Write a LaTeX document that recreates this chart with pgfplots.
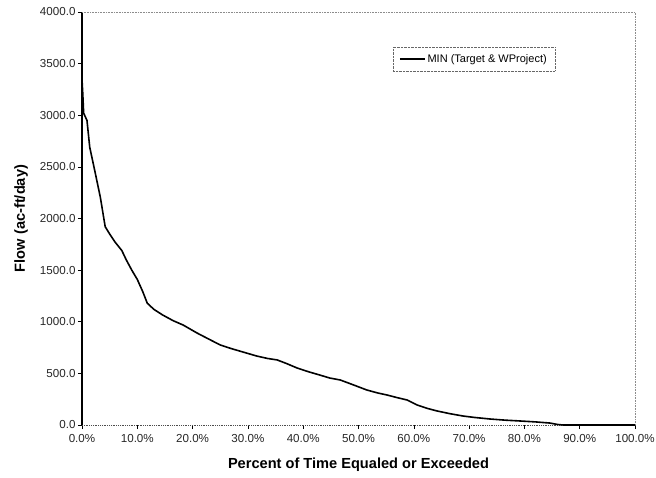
\documentclass[border=0pt]{standalone}
\usepackage{fontspec}
\setmainfont{Liberation Sans}
\usepackage{pgfplots}
\pgfplotsset{compat=1.18}
\begin{document}
\begin{tikzpicture}
\useasboundingbox (-82pt,-52pt) rectangle (574pt,425pt);
\begin{axis}[
  at={(0pt,0pt)}, anchor=south west,
  width=553pt, height=413pt, scale only axis,
  xmin=0, xmax=100, ymin=0, ymax=4000,
  xtick={0,10,...,100}, ytick={0,500,...,4000},
  axis x line*=bottom, axis y line*=left,
  x axis line style={densely dotted, black!70, line width=0.8pt, -},
  y axis line style={black, line width=1.2pt, -},
  tick style={black, line width=0.6pt},
  major tick length=4pt,
  tick align=outside,
  /pgf/number format/assume math mode=true,
  xticklabel={\pgfmathprintnumber[fixed,fixed zerofill,precision=1]{\tick}\%},
  yticklabel={\pgfmathprintnumber[fixed,fixed zerofill,precision=1,1000 sep={}]{\tick}},
  ticklabel style={font=\fontsize{11.6}{13}\selectfont, text=black!85},
  xticklabel style={yshift=-2pt},
  yticklabel style={xshift=1pt},
  xlabel={\textbf{Percent of Time Equaled or Exceeded}},
  ylabel={\textbf{Flow (ac-ft/day)}},
  label style={font=\fontsize{14.6}{16}\selectfont},
  x label style={at={(axis description cs:0.5,-0.095)}, anchor=center},
  y label style={at={(axis description cs:-0.110,0.5)}, anchor=center},
  legend style={at={(axis description cs:0.562,0.915)}, anchor=north west,
    draw=black!60, densely dotted, font=\fontsize{11}{12}\selectfont,
    inner xsep=6pt, inner ysep=5pt},
  legend cell align=left,
  legend image post style={solid},
  legend image code/.code={\draw[#1] (0pt,0pt) -- (25pt,0pt);},
  clip=false,
]
\addplot[black, line width=1.6pt, solid] coordinates {
(0,3350) (0.15,3200) (0.3,3020) (0.9,2950) (1.4,2690) (2.4,2440) (3.3,2210)
(4.2,1920) (5,1850) (6,1770) (7.2,1690) (8,1600) (9,1500) (10,1410)
(11,1290) (11.8,1180) (13,1120) (14.6,1065) (16.5,1010) (18.3,968)
(20.8,891) (23,830) (25,775) (27,740) (29.1,707) (31.6,668) (33.5,645)
(35.3,630) (37,595) (38.9,552) (41,515) (43,484) (44.8,455) (46.7,436)
(49,390) (51.5,339) (53.5,310) (55.2,290) (57,265) (58.8,242) (60.6,194)
(62.5,160) (64.2,136) (66.5,110) (68.9,87) (71,73) (73.8,58) (76.5,47)
(79.2,39) (82,30) (84.6,19) (86,5) (87,0) (100,0)
};
\addlegendentry{MIN (Target \& WProject)}
\draw[densely dotted, black!45, line width=0.6pt] (axis description cs:0,1) -- (axis description cs:1,1) -- (axis description cs:1,0);
\end{axis}
\end{tikzpicture}
\end{document}
